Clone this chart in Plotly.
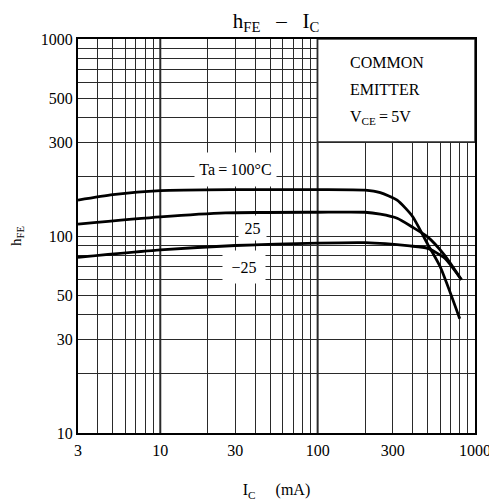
import math
import plotly.graph_objects as go

# ---- data ----
ic_100 = [3, 5, 10, 30, 100, 200, 250, 320, 400, 500, 600, 800]
hfe_100 = [152, 162, 170, 172, 172, 171, 166, 152, 126, 91, 70, 38]

ic_25 = [3, 10, 26, 100, 200, 250, 320, 400, 500, 640, 820]
hfe_25 = [115, 125, 131, 132, 132, 129, 123, 111, 99, 80, 60]

ic_m25 = [3, 10, 30, 100, 200, 385, 500, 640, 820]
hfe_m25 = [78, 85, 89.5, 92, 92.5, 89, 86.6, 77.3, 60]

x_labels = [3, 10, 30, 100, 300, 1000]
y_labels = [10, 30, 50, 100, 300, 500, 1000]

x_grid = [m * d for d in (1, 10, 100) for m in range(1, 10) if 3 <= m * d <= 1000] + [1000]
y_grid = [m * d for d in (10, 100) for m in range(1, 10)] + [1000]

FONT = "Liberation Serif"
GRID = "#2a2a2a"
lg = math.log10

fig = go.Figure()
for xs, ys in [(ic_100, hfe_100), (ic_25, hfe_25), (ic_m25, hfe_m25)]:
    fig.add_trace(go.Scatter(x=xs, y=ys, mode="lines",
                             line=dict(color="black", width=2.8, shape="spline", smoothing=0.6),
                             showlegend=False, hoverinfo="skip"))

# page body has an 8px default margin, so the figure is 8px smaller than the window
fig.update_layout(
    width=489, height=496,
    margin=dict(l=70, r=22, t=31, b=71, autoexpand=False),
    paper_bgcolor="white", plot_bgcolor="white",
    font=dict(family=FONT, color="black", size=16),
    title=dict(text="h<sub>FE</sub>\u2002 \u2013 \u2002I<sub>C</sub>", x=0.548, xanchor="center",
               y=0.975, yanchor="middle", font=dict(size=21, family=FONT)),
)

fig.update_xaxes(
    type="log", range=[lg(3), 3.0],
    tickvals=x_grid,
    ticktext=[str(v) if v in x_labels else "" for v in x_grid],
    showgrid=True, gridcolor=GRID, gridwidth=1,
    showline=True, linecolor="black", linewidth=2, mirror=True,
    ticks="", tickfont=dict(size=16, family=FONT, color="black"), automargin=False,
    ticklabelstandoff=2,
    title=dict(text="I<sub>C</sub>\u2003 (mA)", font=dict(size=16, family=FONT), standoff=26),
    zeroline=False,
)
fig.update_yaxes(
    type="log", range=[1.0, 3.0],
    tickvals=y_grid,
    ticktext=[str(v) if v in y_labels else "" for v in y_grid],
    showgrid=True, gridcolor=GRID, gridwidth=1,
    showline=True, linecolor="black", linewidth=2, mirror=True,
    ticks="", tickfont=dict(size=16, family=FONT, color="black"), automargin=False,
    title=dict(text="h<sub>FE</sub>", font=dict(size=15, family=FONT), standoff=20),
    zeroline=False,
)

# heavier decade grid lines
for xv in (10, 100):
    fig.add_shape(type="line", xref="x", yref="paper", x0=xv, x1=xv, y0=0, y1=1,
                  line=dict(color=GRID, width=2), layer="between")

# white condition box (upper right), bordered by the 100 and 300 grid lines
fig.add_shape(type="rect", xref="x", yref="y", x0=100, x1=1000, y0=300, y1=1000,
              fillcolor="white", line=dict(color=GRID, width=1.5), layer="between")

for txt, yv in [("COMMON", 758), ("EMITTER", 557), ("V<sub>CE</sub>\u2009=\u20095V", 400)]:
    fig.add_annotation(xref="x", yref="y", x=lg(155), y=lg(yv), xanchor="left", yanchor="middle",
                       text=txt, showarrow=False, font=dict(size=16, family=FONT))

# curve labels with white backgrounds
for txt, xv, yv, w, h in [("Ta\u2009=\u2009100°C", 30, 217.6, 81, 33),
                          ("25", 38.4, 109.9, 27, 24),
                          ("\u221225", 34, 70, 42, 32)]:
    fig.add_annotation(xref="x", yref="y", x=lg(xv), y=lg(yv), text=txt, showarrow=False,
                       width=w, height=h, bgcolor="white", borderpad=0,
                       font=dict(size=16, family=FONT))

fig.write_html("out.html")
